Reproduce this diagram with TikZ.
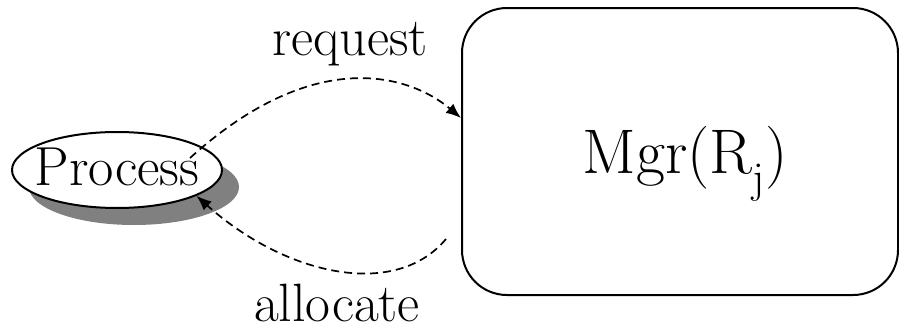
\documentclass[tikz,border=0pt]{standalone}
\usepackage{tikz}
\usetikzlibrary{shapes.geometric, arrows.meta, calc, shadows}
\usepackage{xcolor}
\definecolor{sombra}{RGB}{128,128,128}
\tikzset{
    processo/.style={ellipse, draw=black, fill=white, line width=2pt, minimum width=210pt, minimum height=76pt, inner sep=0pt, font=\fontsize{55}{55}\selectfont, text height=30pt, text depth=0pt, drop shadow={shadow xshift=17pt, shadow yshift=-17pt, fill=sombra, opacity=1}},
    gerente/.style={draw=black, rounded corners=45pt, line width=2pt, minimum width=436pt, minimum height=287pt, inner sep=0pt, font=\fontsize{63}{63}\selectfont, text height=43pt, text depth=0pt},
    rotulo/.style={anchor=base, font=\fontsize{54}{54}\selectfont},
    fluxo/.style={dash pattern=on 8pt off 5pt, line width=1.7pt, -{Latex[length=15pt,width=12pt]}}
}

\begin{document}
\begin{tikzpicture}[x=1pt, y=-1pt]
    \useasboundingbox (0,0) rectangle (899,332);
    % Gerente
    \node[gerente] (mgr) at (680,151.5) {\hspace{10pt}Mgr(R\textsubscript{j})};
    % Processo
    \node[processo] (proc) at (117,170) {\makebox[100pt]{Process}};
    % Rotulos
    \node[rotulo] (req) at (350,55) {request};
    \node[rotulo] (aloc) at (337,321) {allocate};
    % Setas
    \coordinate (reqini) at ($(proc.center)+(73,-12)$);
    \coordinate (alocini) at ($(mgr.west)+(-15,87.5)$);
    \draw[fluxo] (reqini) .. controls (315,45) and (410,75) .. ([yshift=33.5pt]mgr.west);
    \draw[fluxo] (alocini) .. controls (395,300) and (285,275) .. (proc.-18);
\end{tikzpicture}
\end{document}
